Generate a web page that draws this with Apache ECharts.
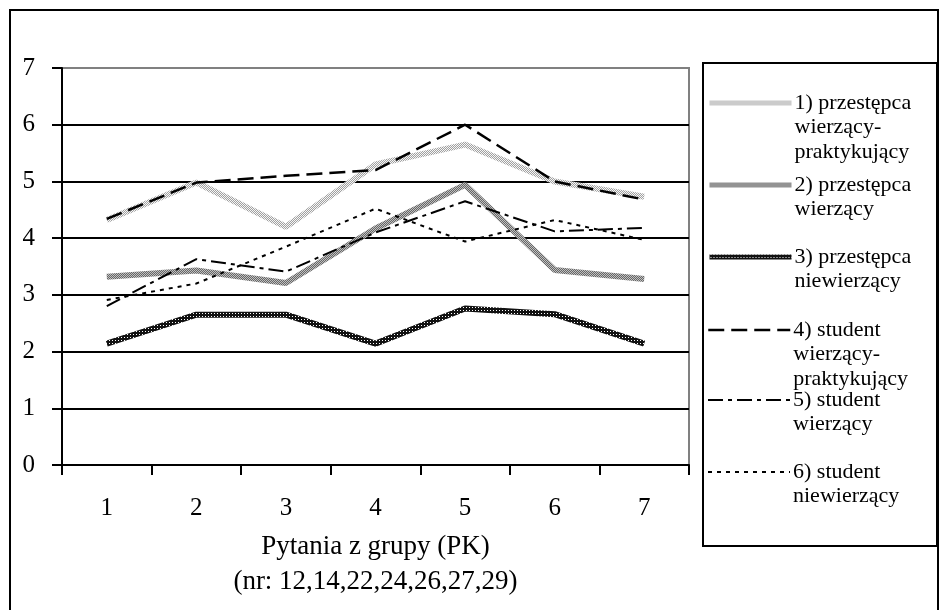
<!DOCTYPE html>
<html>
<head>
<meta charset="utf-8">
<script src="https://cdn.jsdelivr.net/npm/echarts@6/dist/echarts.min.js"></script>
<style>html,body{margin:0;padding:0;background:#fff}#c{width:940px;height:610px}</style>
</head>
<body>
<div id="c"></div>
<script>
var categories = ['1','2','3','4','5','6','7'];
var seriesNames = [
  '1) przestępca\nwierzący-\npraktykujący',
  '2) przestępca\nwierzący',
  '3) przestępca\nniewierzący',
  '4) student\nwierzący-\npraktykujący',
  '5) student\nwierzący',
  '6) student\nniewierzący'
];
var s1 = [4.32, 4.98, 4.20, 5.30, 5.65, 5.00, 4.73];
var s2 = [3.32, 3.43, 3.21, 4.17, 4.94, 3.44, 3.28];
var s3 = [2.14, 2.65, 2.65, 2.14, 2.76, 2.66, 2.14];
var s4 = [4.34, 4.98, 5.10, 5.20, 6.00, 5.00, 4.68];
var s5 = [2.80, 3.63, 3.41, 4.10, 4.65, 4.12, 4.18];
var s6 = [2.91, 3.20, 3.85, 4.52, 3.94, 4.32, 3.97];
var yTicks = [0,1,2,3,4,5,6,7];

function makePattern(size, cells){
  var cv = document.createElement('canvas');
  cv.width = size; cv.height = size;
  var ctx = cv.getContext('2d');
  for (var y=0;y<size;y++) for (var x=0;x<size;x++){
    ctx.fillStyle = cells(x,y);
    ctx.fillRect(x,y,1,1);
  }
  return {image: cv, repeat: 'repeat'};
}
var pat1 = makePattern(2, function(x,y){ return (x+y)%2 ? '#a0a0a0' : '#f6f6f6'; });
var pat2 = makePattern(2, function(x,y){ return (x+y)%2 ? '#666666' : '#c0c0c0'; });
var pat3 = makePattern(3, function(x,y){ return (x===1&&y===1) ? '#ffffff' : '#111111'; });

var FONT = 'Liberation Serif';
var data = [s1,s2,s3,s4,s5,s6];
var styles = [
  {color: pat1, width: 6, type: 'solid'},
  {color: pat2, width: 6, type: 'solid'},
  {color: pat3, width: 6, type: 'solid'},
  {color: '#000', width: 2.5, type: [16,7]},
  {color: '#000', width: 2, type: [15,5,4,5]},
  {color: '#000', width: 2, type: [4,5]}
];
var legendLineWidth = [5, 5, 5, 2.5, 2, 2];
var legendFirstLine = [103, 185, 257, 330, 400, 472];
var LH = 24.5;

var series = data.map(function(d,i){
  return {
    name: seriesNames[i], type: 'line', data: d, symbol: 'none', showSymbol: false,
    lineStyle: styles[i], itemStyle: {color: '#000'}, silent: true, animation: false
  };
});

var legends = seriesNames.map(function(n,i){
  var lines = n.split('\n').length;
  var pad = '';
  for (var k=0;k<lines-1;k++) pad += '\n';
  return {
    data: [n], left: 707, top: legendFirstLine[i] - (2*lines-1)*LH/2,
    orient: 'vertical', padding: 0, itemWidth: 82, itemHeight: 14, itemGap: 0,
    selectedMode: false,
    itemStyle: {opacity: 0},
    lineStyle: {width: legendLineWidth[i]},
    formatter: function(name){ return pad + name; },
    textStyle: {fontFamily: FONT, fontSize: 22, color: '#000', lineHeight: LH, padding: [0,0,0,-2]}
  };
});

var chart = echarts.init(document.getElementById('c'), null, {renderer: 'canvas'});
chart.setOption({
  backgroundColor: '#fff',
  animation: false,
  grid: {left: 62, right: 251, top: 68, bottom: 145, show: true, borderColor: '#808080', borderWidth: 2, backgroundColor: 'transparent'},
  graphic: [
    {type: 'rect', shape: {x: 10, y: 10, width: 928, height: 640}, style: {fill: 'none', stroke: '#000', lineWidth: 2}, z: -10, silent: true},
    {type: 'rect', shape: {x: 703, y: 63, width: 234, height: 483}, style: {fill: '#fff', stroke: '#000', lineWidth: 2}, z: -5, silent: true}
  ],
  legend: legends,
  xAxis: {
    type: 'category', data: categories, boundaryGap: true,
    axisLine: {lineStyle: {color: '#000', width: 2}},
    axisTick: {show: true, interval: 0, length: 10, lineStyle: {color: '#000', width: 2}},
    axisLabel: {fontFamily: FONT, fontSize: 25, color: '#000', margin: 31},
    name: 'Pytania z grupy (PK)\n(nr: 12,14,22,24,26,27,29)',
    nameLocation: 'middle', nameGap: 64,
    nameTextStyle: {fontFamily: FONT, fontSize: 27, color: '#000', lineHeight: 35}
  },
  yAxis: {
    type: 'value', min: 0, max: 7, interval: 1,
    axisLine: {show: true, lineStyle: {color: '#000', width: 2}},
    axisTick: {show: true, length: 10, lineStyle: {color: '#000', width: 2}},
    axisLabel: {fontFamily: FONT, fontSize: 25, color: '#000', margin: 27,
      formatter: function(v){ return yTicks.indexOf(v) >= 0 ? String(v) : ''; }},
    splitLine: {show: true, lineStyle: {color: ['#000','#000','#000','#000','#000','#000','#000','#808080'], width: 2}}
  },
  series: series
});
</script>
</body>
</html>
